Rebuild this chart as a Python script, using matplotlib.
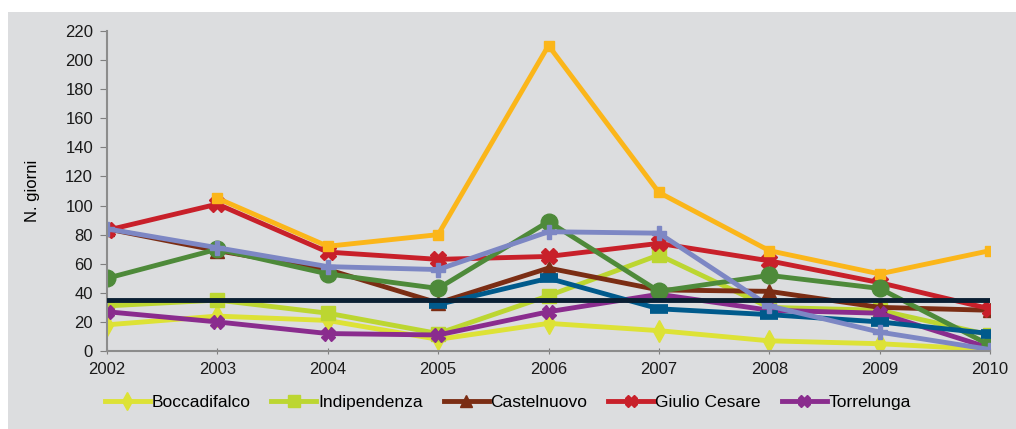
import matplotlib.pyplot as plt
from matplotlib.patches import Rectangle

years = [2002, 2003, 2004, 2005, 2006, 2007, 2008, 2009, 2010]

boccadifalco = [18, 24, 21, 8, 19, 14, 7, 5, 1]
indipendenza = [31, 35, 26, 12, 38, 66, 30, 28, 11]
castelnuovo = [84, 69, 56, 33, 57, 42, 41, 30, 28]
giulio_cesare = [83, 101, 68, 63, 65, 74, 62, 47, 29]
torrelunga = [27, 20, 12, 11, 27, 39, 28, 26, 2]
# series not shown in the legend
orange_years = [2003, 2004, 2005, 2006, 2007, 2008, 2009, 2010]
orange_vals = [105, 72, 80, 210, 109, 69, 53, 69]
green_vals = [50, 70, 53, 43, 89, 41, 52, 43, 4]
lavender_vals = [84, 71, 58, 56, 82, 81, 31, 13, 1]
blue_years = [2005, 2006, 2007, 2008, 2009, 2010]
blue_vals = [32, 50, 29, 25, 20, 12]
limit = 35

yticks = list(range(0, 221, 20))

bg = '#dcdddf'
plt.rcParams['font.family'] = ['Liberation Sans Narrow', 'Liberation Sans', 'DejaVu Sans']

fig = plt.figure(figsize=(10.16, 4.29), dpi=100)
fig.patches.append(Rectangle((8 / 1016, 0), 1, 1 - 12 / 429, transform=fig.transFigure,
                             facecolor=bg, edgecolor='none', zorder=-10))
ax = fig.add_axes([107 / 1016, 1 - 351 / 429, 883 / 1016, 320 / 429])
ax.set_facecolor('none')

lw = 3.5
ax.plot(years, boccadifalco, color='#dde236', lw=lw, marker='d', ms=11, label='Boccadifalco')
ax.plot(years, indipendenza, color='#bcd631', lw=lw, marker='s', ms=10, label='Indipendenza')
ax.plot(years, castelnuovo, color='#7b2d14', lw=lw, marker='^', ms=10, label='Castelnuovo')
ax.plot(years, giulio_cesare, color='#c8202a', lw=lw, marker='X', ms=11, label='Giulio Cesare')
ax.plot(years, torrelunga, color='#8a2c8e', lw=lw, marker='X', ms=10, label='Torrelunga')
ax.plot(orange_years, orange_vals, color='#fbb61a', lw=lw, marker='s', ms=7)
ax.plot(years, green_vals, color='#4e8a3a', lw=lw, marker='o', ms=12)
ax.plot(blue_years, blue_vals, color='#005a8c', lw=lw, marker='_', ms=13, mew=7)
ax.plot(years, lavender_vals, color='#7d87c4', lw=lw, marker='P', ms=10)
ax.plot([years[0], years[-1] + 0.06], [limit, limit], color='#0a1f33', lw=3.5, zorder=5)

ax.set_xlim(2002, 2010)
ax.set_ylim(0, 220)
ax.set_xticks(years)
ax.set_yticks(yticks)
ax.tick_params(axis='both', labelsize=12, colors='#7f7f7f', labelcolor='#1a1a1a')
ax.tick_params(axis='y', length=5, direction='out', pad=5)
ax.tick_params(axis='x', length=4, direction='inout', pad=6)
for s in ['top', 'right']:
    ax.spines[s].set_visible(False)
for s in ['left', 'bottom']:
    ax.spines[s].set_color('#8c8c8c')
    ax.spines[s].set_linewidth(1.5)
ax.set_ylabel('N. giorni', fontsize=12, labelpad=18)

leg = ax.legend(loc='lower left', bbox_to_anchor=(-18 / 883, -75 / 320), ncol=5, frameon=False,
                fontsize=12.5, handlelength=2.6, handletextpad=0.1, columnspacing=1.2,
                markerscale=0.8)

fig.savefig('out.png', dpi=100)
